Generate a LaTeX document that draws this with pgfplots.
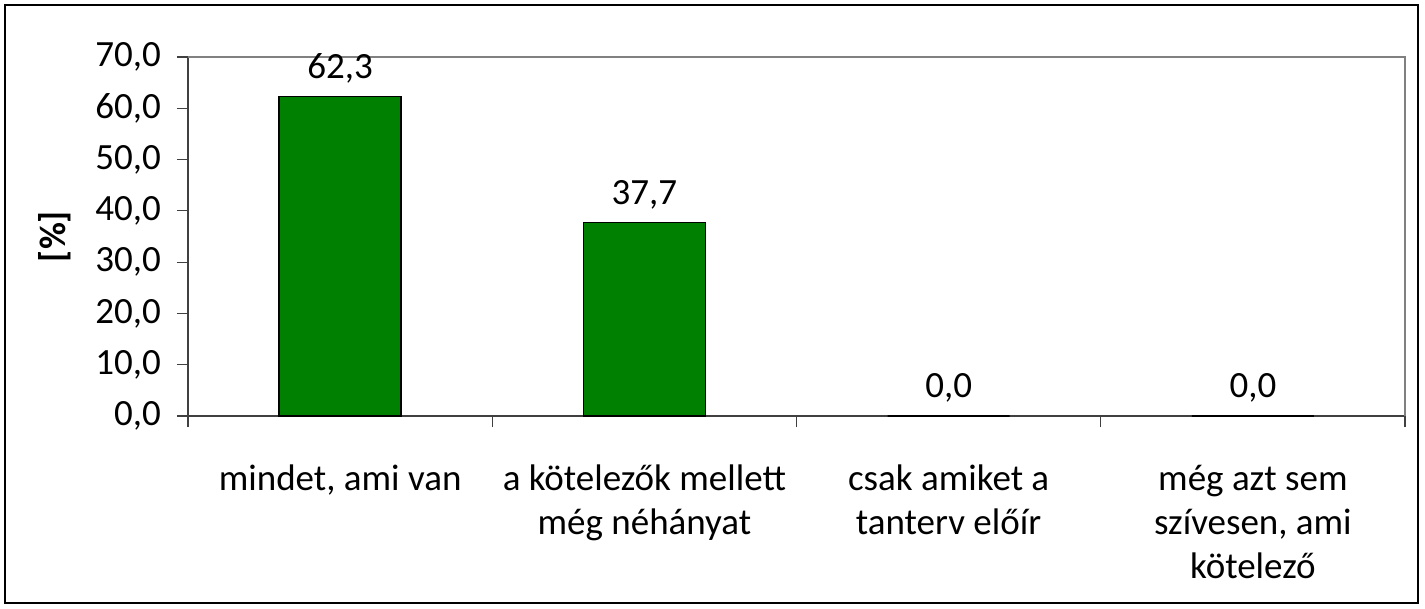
\documentclass[border=0pt]{standalone}
\usepackage{fontspec}
\setmainfont{Carlito}
\usepackage{pgfplots}
\pgfplotsset{compat=1.18}
\definecolor{bargreen}{HTML}{008000}
\definecolor{axisgray}{HTML}{404040}

\begin{document}
\begin{tikzpicture}
  % outer chart frame (1px = 0.5pt)
  \draw[line width=1.4pt] (2.5pt,-2.5pt) rectangle (709pt,-301.5pt);
  \begin{axis}[
      at={(94pt,-208pt)}, anchor=south west,
      scale only axis,
      width=608.5pt, height=179.5pt,
      xmin=-0.5, xmax=3.5,
      ymin=0, ymax=70,
      ytick={0,10,...,70},
      xtick={-0.5,0.5,1.5,2.5,3.5},
      xticklabels={},
      extra x ticks={0,1,2,3},
      extra x tick labels={{mindet, ami van},
        {a kötelezők mellett\\még néhányat},
        {csak amiket a\\tanterv előír},
        {még azt sem\\szívesen, ami\\kötelező}},
      extra x tick style={major tick length=0pt,
        xticklabel style={align=center, yshift=-21pt,
          font=\fontsize{18.5}{22}\selectfont}},
      tick align=outside,
      major tick length=5.5pt,
      tick style={draw=axisgray, line width=0.6pt},
      axis x line*=bottom, axis y line*=left,
      axis line style={draw=axisgray, line width=0.8pt, -},
      ticklabel style={font=\fontsize{18.5}{22}\selectfont},
      yticklabel style={xshift=-4.5pt},
      /pgf/number format/.cd, fixed, fixed zerofill, precision=1,
        use comma, assume math mode=true,
      /pgfplots/.cd,
      ylabel={\bfseries [\%]},
      every axis y label/.style={at={(axis description cs:-0.1093,0.5)},
        anchor=center, rotate=90, font=\fontsize{18.5}{22}\selectfont},
      ybar, bar width=61pt,
      nodes near coords,
      nodes near coords style={font=\fontsize{18.5}{22}\selectfont,
        yshift=3pt, text=black,
        /pgf/number format/.cd, fixed, fixed zerofill, precision=1,
        use comma, assume math mode=true},
      clip=false,
    ]
    \addplot[fill=bargreen, draw=black, line width=0.8pt]
      coordinates {(0,62.3) (1,37.7) (2,0) (3,0)};
    \draw[draw=gray, line width=0.8pt]
      (rel axis cs:0,1) -- (rel axis cs:1,1) -- (rel axis cs:1,0);
  \end{axis}
  \pgfresetboundingbox
  \useasboundingbox (0pt,0pt) rectangle (712.5pt,-304.5pt);
\end{tikzpicture}
\end{document}
